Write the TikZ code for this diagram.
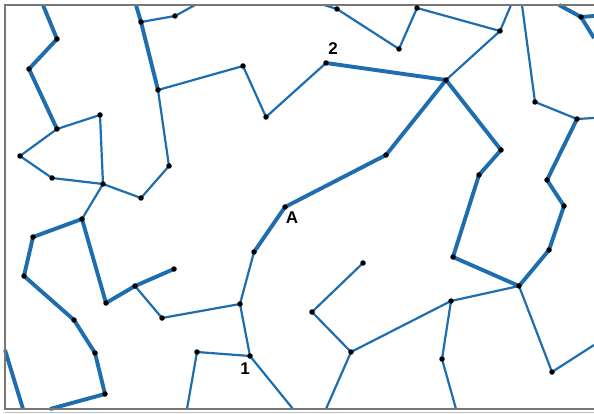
\documentclass[tikz,border=0pt]{standalone}
\usepackage{fontspec}
\setmainfont{Liberation Sans}
\usetikzlibrary{backgrounds}
\definecolor{edgeblue}{RGB}{30,110,175}
\definecolor{framegray}{RGB}{120,120,120}
\tikzset{
  dot/.style={circle,fill=black,inner sep=0pt,minimum size=5.5pt},
  thk/.style={draw=edgeblue,line width=3.9pt},
  thn/.style={draw=edgeblue,line width=2.2pt},
  lbl/.style={font=\bfseries\fontsize{17}{17}\selectfont,inner sep=0pt}
}
\begin{document}
\begin{tikzpicture}[x=1pt,y=-1pt]
\useasboundingbox (0,0) rectangle (594,414);
% nodes
\node[dot] (a1) at (57,39) {};
\node[dot] (a2) at (29,69) {};
\node[dot] (a3) at (57,129) {};
\node[dot] (a4) at (100,115) {};
\node[dot] (a5) at (20,156) {};
\node[dot] (a6) at (52,178) {};
\node[dot] (a7) at (103,184) {};
\node[dot] (a8) at (141,198) {};
\node[dot] (a9) at (169,166) {};
\node[dot] (a10) at (158,90) {};
\node[dot] (a11) at (141,22) {};
\node[dot] (a12) at (175,16) {};
\node[dot] (a13) at (243,66) {};
\node[dot] (a15) at (266,117) {};
\node[dot] (a16) at (326,63) {};
\node[dot] (a17) at (446,80) {};
\node[dot] (a18) at (337,9) {};
\node[dot] (a19) at (399,49) {};
\node[dot] (a20) at (417,8) {};
\node[dot] (a21) at (500,31) {};
\node[dot] (a22) at (386,155) {};
\node[dot] (a23) at (285,207) {};
\node[dot] (a24) at (501,150) {};
\node[dot] (a25) at (479,175) {};
\node[dot] (a26) at (535,102) {};
\node[dot] (a27) at (577,119) {};
\node[dot] (a28) at (547,180) {};
\node[dot] (a29) at (564,206) {};
\node[dot] (a30) at (581,17) {};
\node[dot] (a14) at (82,219) {};
\node[dot] (b1) at (33,237) {};
\node[dot] (b2) at (24,276) {};
\node[dot] (b3) at (74,320) {};
\node[dot] (b4) at (95,353) {};
\node[dot] (b5) at (105,394) {};
\node[dot] (b6) at (106,303) {};
\node[dot] (b7) at (135,286) {};
\node[dot] (b8) at (174,269) {};
\node[dot] (b9) at (162,318) {};
\node[dot] (b10) at (240,304) {};
\node[dot] (b11) at (197,352) {};
\node[dot] (b12) at (250,356) {};
\node[dot] (c1) at (254,252) {};
\node[dot] (c2) at (363,263) {};
\node[dot] (c3) at (312,312) {};
\node[dot] (c4) at (351,352) {};
\node[dot] (c5) at (451,301) {};
\node[dot] (c6) at (453,257) {};
\node[dot] (c7) at (519,286) {};
\node[dot] (c8) at (549,250) {};
\node[dot] (c9) at (442,359) {};
\node[dot] (c10) at (552,372) {};
% free ends
\coordinate (e1) at (43,5);
\coordinate (e2) at (136,5);
\coordinate (e3) at (195,5);
\coordinate (e4) at (324,5);
\coordinate (e5) at (511,5);
\coordinate (e6) at (522,5);
\coordinate (e7) at (559,5);
\coordinate (e8) at (594,16);
\coordinate (e9) at (594,38);
\coordinate (e10) at (594,118);
\coordinate (e11) at (50,409);
\coordinate (e12) at (5,350);
\coordinate (e13) at (23,409);
\coordinate (e14) at (187,409);
\coordinate (e15) at (293,409);
\coordinate (e16) at (326,409);
\coordinate (e17) at (456,409);
\coordinate (e18) at (594,345);
% labels
\node[lbl] (l2) at (333,49) {2};
\node[lbl] (lA) at (292,218) {A};
\node[lbl] (l1) at (245,369) {1};
\begin{scope}[on background layer]
% thick edges
\draw[thk,line join=round] (e1) -- (a1.center) -- (a2.center) -- (a3.center);
\draw[thk,line join=round] (a10.center) -- (a11.center) -- (e2);
\draw[thk,line join=round] (a16.center) -- (a17.center) -- (a22.center) -- (a23.center) -- (c1.center);
\draw[thk,line join=round] (a17.center) -- (a24.center) -- (a25.center) -- (c6.center) -- (c7.center) -- (c8.center) -- (a29.center) -- (a28.center) -- (a27.center);
\draw[thk] (a30.center) -- (e7);
\draw[thk] (a30.center) -- (e8);
\draw[thk] (a30.center) -- (e9);
\draw[thk,line join=round] (e11) -- (b5.center) -- (b4.center) -- (b3.center) -- (b2.center) -- (b1.center) -- (a14.center) -- (b6.center) -- (b7.center) -- (b8.center);
\draw[thk] (e12) -- (e13);
% thin edges
\draw[thn] (a3.center) -- (a4.center);
\draw[thn] (a3.center) -- (a5.center);
\draw[thn] (a5.center) -- (a6.center);
\draw[thn] (a6.center) -- (a7.center);
\draw[thn] (a4.center) -- (a7.center);
\draw[thn] (a7.center) -- (a8.center);
\draw[thn] (a8.center) -- (a9.center);
\draw[thn] (a9.center) -- (a10.center);
\draw[thn] (a11.center) -- (a12.center);
\draw[thn] (a12.center) -- (e3);
\draw[thn] (a10.center) -- (a13.center);
\draw[thn] (a13.center) -- (a15.center);
\draw[thn] (a15.center) -- (a16.center);
\draw[thn] (e4) -- (a18.center);
\draw[thn] (a18.center) -- (a19.center);
\draw[thn] (a19.center) -- (a20.center);
\draw[thn] (a20.center) -- (a21.center);
\draw[thn] (a21.center) -- (e5);
\draw[thn] (a21.center) -- (a17.center);
\draw[thn] (e6) -- (a26.center);
\draw[thn] (a26.center) -- (a27.center);
\draw[thn] (a27.center) -- (e10);
\draw[thn] (a7.center) -- (a14.center);
\draw[thn] (b7.center) -- (b9.center);
\draw[thn] (b9.center) -- (b10.center);
\draw[thn] (c1.center) -- (b10.center);
\draw[thn] (b10.center) -- (b12.center);
\draw[thn] (b11.center) -- (b12.center);
\draw[thn] (b11.center) -- (e14);
\draw[thn] (b12.center) -- (e15);
\draw[thn] (c2.center) -- (c3.center);
\draw[thn] (c3.center) -- (c4.center);
\draw[thn] (c4.center) -- (e16);
\draw[thn] (c4.center) -- (c5.center);
\draw[thn] (c5.center) -- (c7.center);
\draw[thn] (c5.center) -- (c9.center);
\draw[thn] (c9.center) -- (e17);
\draw[thn] (c7.center) -- (c10.center);
\draw[thn] (c10.center) -- (e18);
% frame
\draw[framegray,line width=1.3pt] (594,5) -- (5,5) -- (5,409) -- (594,409);
\draw[framegray!50,line width=1pt] (5,412) -- (594,412);
\end{scope}
\end{tikzpicture}
\end{document}
